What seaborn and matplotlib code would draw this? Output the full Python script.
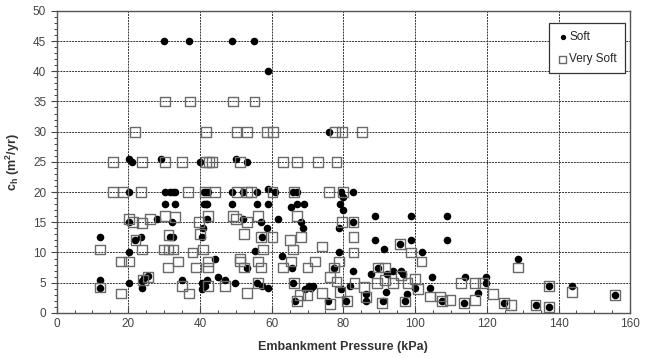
import numpy as np
import pandas as pd
import matplotlib
matplotlib.use("Agg")
import matplotlib.pyplot as plt
from matplotlib.ticker import MultipleLocator
import seaborn as sns

# ---------------- data ----------------
soft_x = [30, 37, 49, 55, 59, 76,
          20.2, 21.1, 29.1, 40, 50, 53,
          20.2, 30.2, 31.6, 32.5, 33, 41.2, 41.7, 42.1, 49, 52, 56, 58.9, 60.9, 66, 67, 79.3, 82.8,
          30.2, 33, 41, 41.6, 42, 49, 55.8, 58.9, 65.5, 67, 68.9, 79.1, 80, 80,
          20.2, 27.9, 32.1, 41.9, 52.1, 57, 61.8, 68.2, 82.8, 88.8, 98.9, 108.8,
          40.7, 58.6, 68.8, 78.8,
          12.1, 21.9, 23.5, 31.6, 32.5, 40.6, 57.2, 88.8, 98.9, 108.8,
          95.8, 91.3, 20.2, 55.3, 78.8, 101.8, 63, 44.2, 128.8,
          53, 65.6, 77.4, 89.7, 82.8, 93.9, 96.1, 87.7, 92.1, 96.7,
          24.5, 25.5, 44.9, 104.6, 113.9, 119.8,
          12.1, 23.9, 34.9, 41.9, 47,
          20.2, 49.8, 55.8, 66, 40.6, 119.8,
          57.2, 41.3, 70.3, 71.5, 81.8, 137.4, 143.7,
          12.1, 23.9, 40.6, 58.9, 69.4, 71, 79.3, 100, 104.2,
          86.2, 91.8, 117.6, 97.7, 155.8,
          66.5, 75.8, 80.7, 86.2, 91.1, 97.2, 107.6, 113.7, 124.9,
          133.6, 137.4]
soft_y = [45, 45, 45, 45, 40, 30,
          25.4, 24.9, 25.4, 24.9, 25.5, 24.9,
          20, 20, 20, 20, 20, 20, 20, 20, 20, 20, 20, 20.5, 20, 20, 20, 20, 20,
          18, 18, 18, 18, 18, 18, 18, 18, 17.6, 18, 18, 18, 19.2, 17,
          15, 15.5, 15, 15.5, 15.5, 15, 15.5, 15, 15, 16, 16, 16,
          14, 14, 14, 14,
          12.5, 12, 12.5, 12.5, 12.5, 12.5, 12.5, 12, 12, 12,
          11.4, 10.5, 10, 10.2, 10, 10, 9.4, 9, 8.9,
          7.4, 7.5, 7.5, 7.5, 6.9, 7, 7, 6.4, 6.4, 6.4,
          5.8, 6.1, 6, 6, 6, 5.9,
          5.4, 5.3, 5.4, 5.4, 5.4,
          5, 5, 5, 5, 5, 5,
          4.5, 4.5, 4.5, 4.5, 4.45, 4.45, 4.45,
          4.2, 4.2, 4, 4.1, 4, 4.2, 3.9, 4.1, 4.1,
          3.2, 3.5, 3.3, 3.1, 2.9,
          2, 1.9, 1.9, 1.9, 1.9, 1.9, 1.9, 1.7, 1.7,
          1.3, 1.0]

vsoft_x = [30.2, 37.3, 49.1, 55.2,
           21.8, 41.6, 50.2, 53.1, 58.7, 60.3, 77.6, 79.7, 85.1,
           15.8, 23.9, 30.2, 34.9, 41.6, 42.4, 43.3, 51.1, 63.2, 67.1, 73, 78.1,
           15.8, 18.6, 23.5, 36.6, 41.5, 44.1, 50.2, 53.1, 54.2, 60.2, 66.3, 76, 79.9,
           20.2, 21.2, 23.9, 26.1, 30.2, 33, 39.7, 42.2, 49.1, 50.1, 53.2, 56.2, 67.1, 79.7, 82.8,
           22, 31.2, 40, 52.2, 57.1, 60.2, 65.1, 68.1, 82.8,
           12.1, 23.9, 29.8, 31.2, 32.6, 37.9, 40.9, 57.5, 65.9, 74.1, 82.8, 95.8, 98.9, 101.8,
           18, 20.2, 31, 33.9, 38.9, 42.2, 42.2, 51.1, 51.1, 52.2, 56.2, 57.1, 63.2, 65.3, 70, 72,
           77.4, 78.8, 89.7, 91.6, 128.8,
           12.1, 18, 24.1, 25.5, 34.9, 36.9, 42.2, 47, 53.2, 56.2, 66.2, 67.8, 70, 74.1, 76.3,
           78.1, 79.1, 83.1, 85.8, 89.3, 91.6, 93.9, 96.1, 97.9, 100, 100.9, 104.2, 106.9, 109.7,
           112.8, 116.7, 116.7, 119, 121.8, 126.8, 133.6, 137.4, 143.7, 155.8,
           67.1, 76.3, 81, 86.2, 90.7, 97.2, 107.6, 113.7, 124.9, 137.4]
vsoft_y = [35, 35, 35, 35,
           30, 30, 30, 30, 30, 30, 30, 30, 30,
           25, 25, 25, 25, 25, 25, 25, 25, 25, 25, 25, 25,
           20, 20, 20, 20, 20, 20, 20, 20, 20, 20, 20, 20, 20,
           15.5, 15, 14.9, 15.5, 16, 15.9, 15, 16, 16, 15.5, 15, 16, 16, 15.1, 15,
           12, 12.9, 13, 13, 12.5, 12.5, 12, 12.5, 12.5,
           10.5, 10.5, 10.5, 10.5, 10.5, 10, 10.5, 10.5, 10.5, 11, 10, 11.4, 10, 8.5,
           8.5, 8.5, 7.5, 8.5, 7.5, 8.5, 7.5, 9, 8.5, 7.5, 8.5, 7.5, 7.5, 8.5, 7.5, 8.5,
           7.5, 8.5, 7.5, 7.5, 7.5,
           4.2, 3.2, 5.5, 6, 4.5, 3.2, 4.5, 4.5, 3.3, 5, 5, 3, 3, 3.3, 6,
           5.2, 3.5, 5, 4.3, 5, 5.4, 5, 6.2, 5, 5.6, 3.9, 2.7, 2.7, 2.1,
           5, 5, 2.1, 5, 3.1, 1.3, 1.3, 4.45, 3.4, 2.9,
           2, 1.5, 2, 2.6, 1.6, 1.9, 2, 1.7, 1.7, 1.0]

x_ticks = [0, 20, 40, 60, 80, 100, 120, 140, 160]
y_ticks = [0, 5, 10, 15, 20, 25, 30, 35, 40, 45, 50]

df_soft = pd.DataFrame({"p": soft_x, "ch": soft_y})
df_vsoft = pd.DataFrame({"p": vsoft_x, "ch": vsoft_y})

# ---------------- figure ----------------
sns.set_style("white")
plt.rcParams["font.family"] = ["Liberation Sans", "DejaVu Sans"]

fig = plt.figure(figsize=(6.45, 3.58), dpi=100)
W, H = 645, 358
L, R, T, B = 56.6, 630.2, 10.8, 312.9
ax = fig.add_axes([L / W, 1 - B / H, (R - L) / W, (B - T) / H])

sns.scatterplot(data=df_soft, x="p", y="ch", ax=ax, marker="o", s=30,
                color="black", linewidth=0, label="Soft", zorder=3)
sns.scatterplot(data=df_vsoft, x="p", y="ch", ax=ax, marker="s", s=50,
                facecolor="none", edgecolor="#6a6a6a", linewidth=1.0,
                label="Very Soft", zorder=4)

ax.set_xlim(0, 160)
ax.set_ylim(0, 50)
ax.set_xticks(x_ticks)
ax.set_yticks(y_ticks)
ax.xaxis.set_minor_locator(MultipleLocator(5))
ax.yaxis.set_minor_locator(MultipleLocator(1))
ax.tick_params(axis="both", which="major", labelsize=8.5, labelcolor="#444444",
               length=4, width=0.8, color="#444444")
ax.tick_params(axis="x", which="both", direction="in")
ax.tick_params(axis="y", which="both", direction="out")
ax.tick_params(axis="both", which="minor", length=2.5, width=0.7, color="#444444")
ax.tick_params(axis="both", which="both", bottom=True, left=True)

ax.grid(True, which="major", color="#333333", linestyle=(0, (2, 1)), linewidth=0.7)
ax.set_axisbelow(True)
for sp in ax.spines.values():
    sp.set_color("#555555")
    sp.set_linewidth(1.0)

ax.set_xlabel("Embankment Pressure (kPa)", fontsize=9, fontweight="bold",
              color="#333333", labelpad=8)
ax.set_ylabel(r"c$_\mathregular{h}$ (m$^\mathregular{2}$/yr)", fontsize=9,
              fontweight="bold", color="#333333", labelpad=8)

leg = ax.legend(loc="upper right", bbox_to_anchor=(0.991, 0.96), borderaxespad=0,
                fontsize=8.5, frameon=True, fancybox=False, framealpha=1,
                edgecolor="#333333", labelspacing=0.85, handletextpad=0.1,
                handlelength=0.9, borderpad=0.7, markerscale=0.7)
leg.get_frame().set_linewidth(0.9)

fig.savefig("out.png", dpi=100)
